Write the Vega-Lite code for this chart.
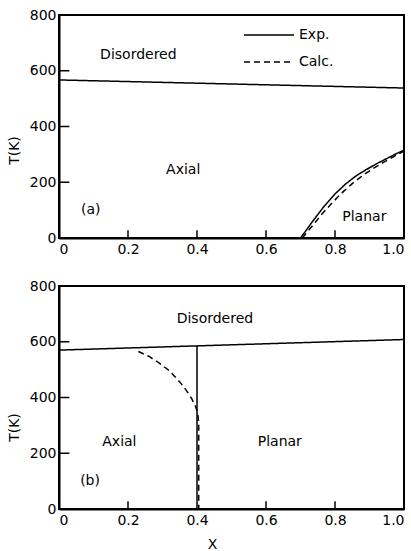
{
  "$schema": "https://vega.github.io/schema/vega-lite/v6.json",
  "padding": {"left": 6, "top": 7, "right": 5, "bottom": 5},
  "background": "white",
  "config": {
    "font": "DejaVu Sans",
    "view": {"stroke": "black", "strokeWidth": 2},
    "axis": {
      "grid": false,
      "domainColor": "black",
      "domainWidth": 2,
      "ticks": false,
      "tickSize": 0,
      "labelColor": "black",
      "labelFont": "DejaVu Sans",
      "labelFontSize": 14,
      "titleFont": "DejaVu Sans",
      "titleFontSize": 14,
      "titleFontWeight": "normal",
      "titleColor": "black"
    },
    "concat": {"spacing": 21}
  },
  "datasets": {
    "linesA": [
      {"seg": "a_top", "type": "Exp.", "x": 0, "T": 567},
      {"seg": "a_top", "type": "Exp.", "x": 1, "T": 538},
      {"seg": "a_exp", "type": "Exp.", "x": 0.70, "T": 0},
      {"seg": "a_exp", "type": "Exp.", "x": 0.715, "T": 25},
      {"seg": "a_exp", "type": "Exp.", "x": 0.73, "T": 51},
      {"seg": "a_exp", "type": "Exp.", "x": 0.75, "T": 84},
      {"seg": "a_exp", "type": "Exp.", "x": 0.77, "T": 116},
      {"seg": "a_exp", "type": "Exp.", "x": 0.80, "T": 158},
      {"seg": "a_exp", "type": "Exp.", "x": 0.83, "T": 193},
      {"seg": "a_exp", "type": "Exp.", "x": 0.86, "T": 222},
      {"seg": "a_exp", "type": "Exp.", "x": 0.89, "T": 245},
      {"seg": "a_exp", "type": "Exp.", "x": 0.92, "T": 266},
      {"seg": "a_exp", "type": "Exp.", "x": 0.95, "T": 285},
      {"seg": "a_exp", "type": "Exp.", "x": 0.98, "T": 304},
      {"seg": "a_exp", "type": "Exp.", "x": 1.0, "T": 315},
      {"seg": "a_calc", "type": "Calc.", "x": 0.705, "T": 0},
      {"seg": "a_calc", "type": "Calc.", "x": 0.72, "T": 22},
      {"seg": "a_calc", "type": "Calc.", "x": 0.74, "T": 52},
      {"seg": "a_calc", "type": "Calc.", "x": 0.76, "T": 83},
      {"seg": "a_calc", "type": "Calc.", "x": 0.79, "T": 124},
      {"seg": "a_calc", "type": "Calc.", "x": 0.82, "T": 162},
      {"seg": "a_calc", "type": "Calc.", "x": 0.85, "T": 195},
      {"seg": "a_calc", "type": "Calc.", "x": 0.88, "T": 224},
      {"seg": "a_calc", "type": "Calc.", "x": 0.91, "T": 249},
      {"seg": "a_calc", "type": "Calc.", "x": 0.94, "T": 271},
      {"seg": "a_calc", "type": "Calc.", "x": 0.97, "T": 292},
      {"seg": "a_calc", "type": "Calc.", "x": 1.0, "T": 312}
    ],
    "textA": [
      {"label": "Disordered", "x": 0.23, "T": 656},
      {"label": "Axial", "x": 0.36, "T": 244},
      {"label": "(a)", "x": 0.092, "T": 100},
      {"label": "Planar", "x": 0.885, "T": 75}
    ],
    "linesB": [
      {"seg": "b_top", "type": "Exp.", "o": 1, "x": 0, "T": 570},
      {"seg": "b_top", "type": "Exp.", "o": 2, "x": 1, "T": 608},
      {"seg": "b_vert", "type": "Exp.", "o": 1, "x": 0.4, "T": 0},
      {"seg": "b_vert", "type": "Exp.", "o": 2, "x": 0.4, "T": 585},
      {"seg": "b_calc", "type": "Calc.", "o": 1, "x": 0.23, "T": 565},
      {"seg": "b_calc", "type": "Calc.", "o": 2, "x": 0.26, "T": 548},
      {"seg": "b_calc", "type": "Calc.", "o": 3, "x": 0.29, "T": 524},
      {"seg": "b_calc", "type": "Calc.", "o": 4, "x": 0.32, "T": 496},
      {"seg": "b_calc", "type": "Calc.", "o": 5, "x": 0.35, "T": 456},
      {"seg": "b_calc", "type": "Calc.", "o": 6, "x": 0.37, "T": 424},
      {"seg": "b_calc", "type": "Calc.", "o": 7, "x": 0.385, "T": 395},
      {"seg": "b_calc", "type": "Calc.", "o": 8, "x": 0.395, "T": 370},
      {"seg": "b_calc", "type": "Calc.", "o": 9, "x": 0.402, "T": 345},
      {"seg": "b_calc", "type": "Calc.", "o": 10, "x": 0.405, "T": 310},
      {"seg": "b_calc", "type": "Calc.", "o": 11, "x": 0.405, "T": 0}
    ],
    "textB": [
      {"label": "Disordered", "x": 0.452, "T": 681},
      {"label": "Axial", "x": 0.175, "T": 239},
      {"label": "Planar", "x": 0.64, "T": 239},
      {"label": "(b)", "x": 0.09, "T": 101}
    ],
    "ticksY": [{"T": 200}, {"T": 400}, {"T": 600}],
    "ticksXa": [{"x": 0.2}, {"x": 0.4}, {"x": 0.6}, {"x": 0.8}],
    "ticksXb": [{"x": 0.2}, {"x": 0.6}, {"x": 0.8}]
  },
  "vconcat": [
    {
      "width": 345,
      "height": 223,
      "layer": [
        {
          "data": {"name": "linesA"},
          "mark": {"type": "line", "color": "black", "strokeWidth": 1.5},
          "encoding": {
            "x": {"field": "x", "type": "quantitative", "scale": {"domain": [0, 1], "nice": false},
              "axis": {"title": null, "values": [0, 0.2, 0.4, 0.6, 0.8, 1.0], "labelPadding": 4,
                "labelExpr": "datum.value == 0 ? '0' : format(datum.value, '.1f')"}},
            "y": {"field": "T", "type": "quantitative", "scale": {"domain": [0, 800], "nice": false},
              "axis": {"title": "T(K)", "values": [0, 200, 400, 600, 800], "labelPadding": 3,
                "titleX": -45, "titleY": 135, "titleBaseline": "middle", "titleAngle": -90}},
            "detail": {"field": "seg"},
            "strokeDash": {"field": "type", "type": "nominal",
              "scale": {"domain": ["Exp.", "Calc."], "range": [[1, 0], [6, 4]]},
              "legend": {"title": null, "orient": "none", "legendX": 184, "legendY": 13, "padding": 0,
                "symbolType": "stroke", "symbolSize": 2500, "symbolStrokeWidth": 1.5, "symbolStrokeColor": "black",
                "labelFontSize": 14, "labelColor": "black", "labelOffset": 4, "clipHeight": 14, "rowPadding": 13}}
          }
        },
        {
          "data": {"name": "ticksY"},
          "mark": {"type": "rule", "color": "black", "strokeWidth": 1.5},
          "encoding": {"y": {"field": "T", "type": "quantitative"}, "x": {"datum": 0}, "x2": {"datum": 0.03}}
        },
        {
          "data": {"name": "ticksXa"},
          "mark": {"type": "rule", "color": "black", "strokeWidth": 1.5},
          "encoding": {"x": {"field": "x", "type": "quantitative"}, "y": {"datum": 0}, "y2": {"datum": 28}}
        },
        {
          "data": {"name": "textA"},
          "mark": {"type": "text", "fontSize": 14, "color": "black", "align": "center", "baseline": "middle"},
          "encoding": {
            "x": {"field": "x", "type": "quantitative"},
            "y": {"field": "T", "type": "quantitative"},
            "text": {"field": "label"}
          }
        }
      ]
    },
    {
      "width": 345,
      "height": 223,
      "layer": [
        {
          "data": {"name": "linesB"},
          "mark": {"type": "line", "color": "black", "strokeWidth": 1.5},
          "encoding": {
            "x": {"field": "x", "type": "quantitative", "scale": {"domain": [0, 1], "nice": false},
              "axis": {"title": "X", "values": [0, 0.2, 0.4, 0.6, 0.8, 1.0], "labelPadding": 4,
                "titleX": 153, "titleY": 35, "titleBaseline": "middle",
                "labelExpr": "datum.value == 0 ? '0' : format(datum.value, '.1f')"}},
            "y": {"field": "T", "type": "quantitative", "scale": {"domain": [0, 800], "nice": false},
              "axis": {"title": "T(K)", "values": [0, 200, 400, 600, 800], "labelPadding": 3,
                "titleX": -45, "titleY": 141, "titleBaseline": "middle", "titleAngle": -90}},
            "detail": {"field": "seg"},
            "order": {"field": "o"},
            "strokeDash": {"field": "type", "type": "nominal",
              "scale": {"domain": ["Exp.", "Calc."], "range": [[1, 0], [6, 4]]},
              "legend": null}
          }
        },
        {
          "data": {"name": "ticksY"},
          "mark": {"type": "rule", "color": "black", "strokeWidth": 1.5},
          "encoding": {"y": {"field": "T", "type": "quantitative"}, "x": {"datum": 0}, "x2": {"datum": 0.03}}
        },
        {
          "data": {"name": "ticksXb"},
          "mark": {"type": "rule", "color": "black", "strokeWidth": 1.5},
          "encoding": {"x": {"field": "x", "type": "quantitative"}, "y": {"datum": 0}, "y2": {"datum": 28}}
        },
        {
          "data": {"name": "textB"},
          "mark": {"type": "text", "fontSize": 14, "color": "black", "align": "center", "baseline": "middle"},
          "encoding": {
            "x": {"field": "x", "type": "quantitative"},
            "y": {"field": "T", "type": "quantitative"},
            "text": {"field": "label"}
          }
        }
      ]
    }
  ],
  "resolve": {"scale": {"strokeDash": "independent"}, "legend": {"strokeDash": "independent"}}
}
